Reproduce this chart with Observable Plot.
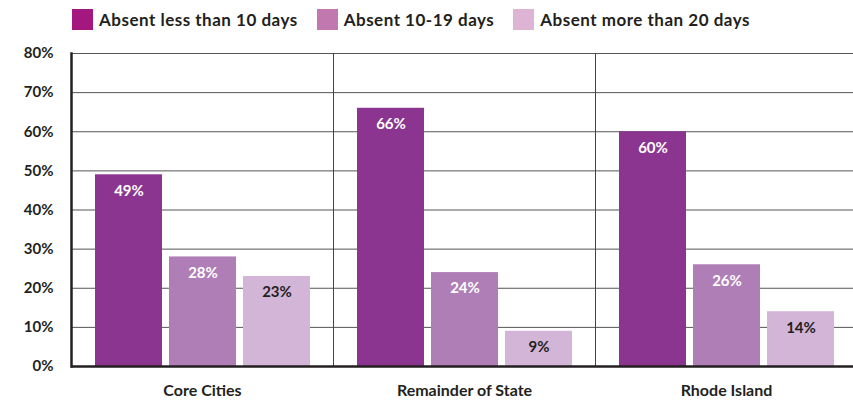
<!DOCTYPE html>
<html>
<head>
<meta charset="utf-8">
<script src="https://cdn.jsdelivr.net/npm/d3@7"></script>
<script src="https://cdn.jsdelivr.net/npm/@observablehq/plot@0.6"></script>
<style>
  body { margin: 0; background: #fff; font-family: Lato, "Open Sans", sans-serif; overflow: hidden; }
  #legend { height: 40px; display: flex; align-items: center; padding-left: 72px; box-sizing: border-box; padding-bottom: 2px; }
  .item { display: flex; align-items: center; margin-right: 19px; font-weight: bold; font-size: 17px; letter-spacing: 0.5px; color: #231f20; white-space: nowrap; }
  .sw { width: 21px; height: 21px; margin-right: 6px; }
  svg text { font-family: Lato, "Open Sans", sans-serif; }
</style>
</head>
<body>
<div id="legend"></div>
<div id="chart"></div>
<script>
const categories = ["Core Cities", "Remainder of State", "Rhode Island"];
const series = ["Absent less than 10 days", "Absent 10-19 days", "Absent more than 20 days"];
const lessThan10 = [49, 66, 60];
const from10to19 = [28, 24, 26];
const moreThan20 = [23, 9, 14];
const yTicks = [0, 10, 20, 30, 40, 50, 60, 70, 80];
const barColors = ["#8b3590", "#b07eb7", "#d3b5d8"];
const legendColors = ["#a3177f", "#c178ae", "#ddb4d4"];

const valuesBySeries = [lessThan10, from10to19, moreThan20];
const data = [];
categories.forEach((c, i) => {
  series.forEach((s, j) => data.push({category: c, series: s, value: valuesBySeries[j][i]}));
});

const legend = document.getElementById("legend");
series.forEach((s, j) => {
  const it = document.createElement("div");
  it.className = "item";
  it.innerHTML = `<span class="sw" style="background:${legendColors[j]}"></span><span>${s}</span>`;
  legend.appendChild(it);
});

const chart = Plot.plot({
  width: 853,
  height: 360,
  marginTop: 13,
  marginBottom: 34,
  marginLeft: 70,
  marginRight: -5,
  style: {fontFamily: "Lato, 'Open Sans', sans-serif", fontSize: "15px", fontWeight: "bold", color: "#231f20", overflow: "visible"},
  fx: {domain: categories, padding: 0, label: null},
  x: {domain: series, paddingInner: 0.095, paddingOuter: 0.311, axis: null},
  y: {domain: [0, 80], label: null, axis: null},
  color: {domain: series, range: barColors},
  marks: [
    Plot.ruleY(yTicks.slice(1), {stroke: "#555", strokeWidth: 1}),
    Plot.frame({anchor: "left", stroke: "#444", strokeWidth: 1}),
    Plot.barY(data, {fx: "category", x: "series", y: "value", fill: "series"}),
    Plot.text(data.filter(d => d.series !== series[2]), {fx: "category", x: "series", y: "value", text: d => d.value + "%", dy: 16, fill: "white", fontSize: 15, fontWeight: "bold"}),
    Plot.text(data.filter(d => d.series === series[2]), {fx: "category", x: "series", y: "value", text: d => d.value + "%", dy: 16, fill: "#231f20", fontSize: 15, fontWeight: "bold"}),
    Plot.ruleY([0], {stroke: "#231f20", strokeWidth: 2.5}),
    Plot.frame({anchor: "left", fx: () => categories[0], stroke: "#231f20", strokeWidth: 2.5}),
    Plot.axisY(yTicks, {tickSize: 0, tickPadding: 18, tickFormat: d => d + "%", fontSize: 15, fontWeight: "bold", fill: "#231f20", label: null}),
    Plot.axisFx({anchor: "bottom", tickSize: 0, tickPadding: 18, fontSize: 16, fontWeight: "bold", fill: "#231f20", label: null})
  ]
});
document.getElementById("chart").appendChild(chart);
</script>
</body>
</html>
